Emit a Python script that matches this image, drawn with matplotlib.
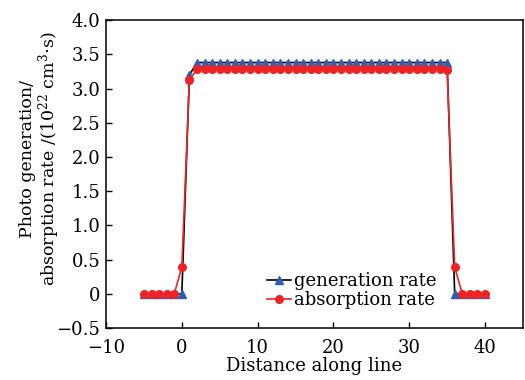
import matplotlib
matplotlib.use('Agg')
import matplotlib.pyplot as plt
from matplotlib.ticker import FuncFormatter

# distance along line (points)
distance = [-5, -4, -3, -2, -1, 0, 1, 2, 3, 4, 5, 6, 7, 8, 9, 10, 11, 12, 13, 14,
            15, 16, 17, 18, 19, 20, 21, 22, 23, 24, 25, 26, 27, 28, 29, 30, 31, 32,
            33, 34, 35, 36, 37, 38, 39, 40]

generation = [0, 0, 0, 0, 0, 0, 3.20, 3.38, 3.38, 3.38, 3.38, 3.38, 3.38, 3.38,
              3.38, 3.38, 3.38, 3.38, 3.38, 3.38, 3.38, 3.38, 3.38, 3.38, 3.38, 3.38,
              3.38, 3.38, 3.38, 3.38, 3.38, 3.38, 3.38, 3.38, 3.38, 3.38, 3.38, 3.38,
              3.38, 3.38, 3.38, 0, 0, 0, 0, 0]

absorption = [0, 0, 0, 0, 0, 0.39, 3.13, 3.28, 3.28, 3.28, 3.28, 3.28, 3.28, 3.28,
              3.28, 3.28, 3.28, 3.28, 3.28, 3.28, 3.28, 3.28, 3.28, 3.28, 3.28, 3.28,
              3.28, 3.28, 3.28, 3.28, 3.28, 3.28, 3.28, 3.28, 3.28, 3.28, 3.28, 3.28,
              3.28, 3.28, 3.27, 0.39, 0, 0, 0, 0]

plt.rcParams['font.family'] = 'DejaVu Serif'
plt.rcParams['mathtext.fontset'] = 'dejavuserif'

fig = plt.figure(figsize=(5.25, 3.8), dpi=100)
ax = fig.add_axes([0.202, 0.137, 0.794, 0.810])

ax.plot(distance, generation, color='black', linewidth=1.2,
        marker='^', markersize=6, markerfacecolor='#2f5fb3', markeredgecolor='#2f5fb3',
        label='generation rate')
ax.plot(distance, absorption, color='#ee2424', linewidth=1.2,
        marker='o', markersize=5.5, markerfacecolor='#ee2424', markeredgecolor='#ee2424',
        label='absorption rate')

ax.set_xlim(-10, 45)
ax.set_ylim(-0.5, 4.0)
ax.set_xticks([-10, 0, 10, 20, 30, 40])
ax.set_yticks([-0.5, 0, 0.5, 1.0, 1.5, 2.0, 2.5, 3.0, 3.5, 4.0])
ax.yaxis.set_major_formatter(FuncFormatter(
    lambda v, p: '0' if abs(v) < 1e-9 else f'{v:.1f}'.replace('-', '\u2212')))
ax.xaxis.set_major_formatter(FuncFormatter(lambda v, p: f'{v:.0f}'.replace('-', '\u2212')))
ax.tick_params(direction='in', length=4, width=1, labelsize=13)
ax.tick_params(axis='x', pad=8)
ax.tick_params(axis='y', pad=4)

for s in ax.spines.values():
    s.set_linewidth(1.1)

ax.set_xlabel('Distance along line', fontsize=13, labelpad=0)
ax.set_ylabel('Photo generation/\nabsorption rate /(10$^{22}$ cm$^3$$\\cdot$s)',
              fontsize=12.5, linespacing=1.0)
ax.yaxis.set_label_coords(-0.105, 0.55)

ax.legend(loc='lower center', bbox_to_anchor=(0.59, 0.02), frameon=False,
          fontsize=13, handlelength=1.3, handletextpad=0.2, borderpad=0.2,
          labelspacing=0.05)

fig.savefig('out.png', dpi=100)
